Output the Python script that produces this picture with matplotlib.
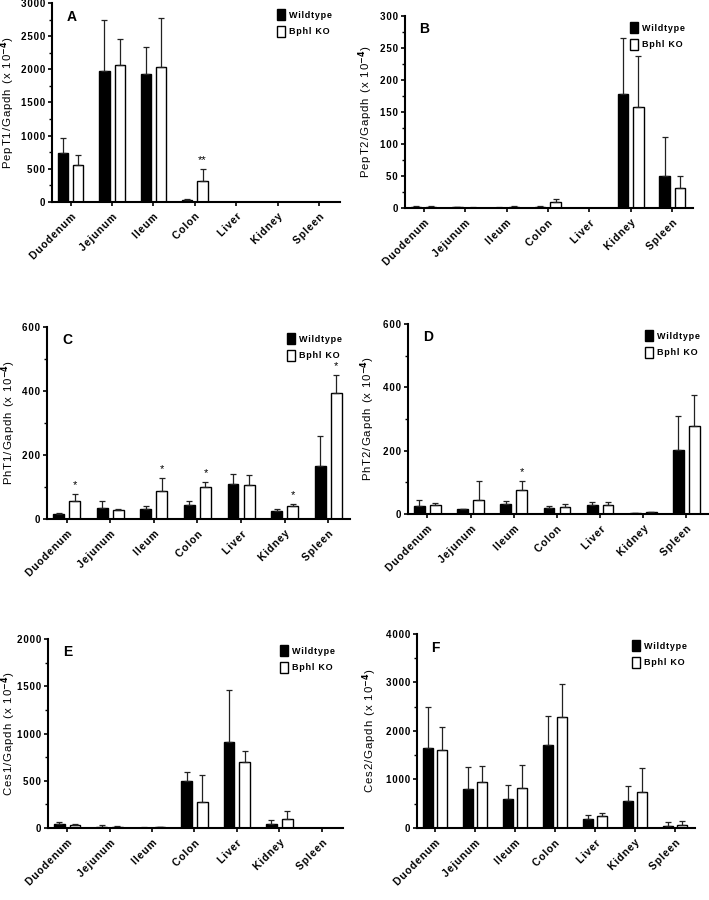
"""
Transporter / esterase mRNA levels, wildtype vs Bphl KO, six panels.
"""
import numpy as np
from matplotlib import pyplot as plt
from matplotlib.patches import Patch
from matplotlib.ticker import AutoMinorLocator, MultipleLocator, FuncFormatter

plt.rcParams['font.family'] = ['Liberation Sans', 'DejaVu Sans']
plt.rcParams['font.weight'] = 'bold'
plt.rcParams['mathtext.default'] = 'bf'

tissues = ['Duodenum', 'Jejunum', 'Ileum', 'Colon', 'Liver', 'Kidney', 'Spleen']

# panel A - PepT1
pept1_wt = [733, 1972, 1922, 30, 0, 0, 0]
pept1_wt_top = [958, 2740, 2338, 40, 0, 0, 0]
pept1_ko = [557, 2072, 2037, 321, 0, 0, 0]
pept1_ko_top = [707, 2464, 2780, 492, 0, 0, 0]
pept1_sig = ['', '', '', '**', '', '', '']

# panel B - PepT2
pept2_wt = [2, 1, 0.5, 2, 0, 178, 49.5]
pept2_wt_top = [3, 1.5, 1, 3, 0, 266, 111]
pept2_ko = [2, 0.5, 2, 10, 0, 158, 32]
pept2_ko_top = [3, 1, 3, 14.6, 0, 237, 50]
pept2_sig = ['', '', '', '', '', '', '']

# panel C - PhT1
pht1_wt = [14.6, 34, 32, 44, 110, 25, 165]
pht1_wt_top = [18, 56, 41, 55, 142, 32, 260]
pht1_ko = [55, 29, 87.5, 101, 107, 40, 394]
pht1_ko_top = [79, 31, 129, 117, 137, 48, 451]
pht1_sig = ['*', '', '*', '*', '', '*', '*']

# panel D - PhT2
pht2_wt = [25, 15, 31, 18, 28.5, 3, 202]
pht2_wt_top = [44, 17, 42, 25, 39, 4, 308]
pht2_ko = [28.5, 44, 76, 23, 28.5, 6, 278]
pht2_ko_top = [36, 105, 105, 31, 37, 7, 377]
pht2_sig = ['', '', '*', '', '', '', '']

# panel E - Ces1
ces1_wt = [42, 15, 5, 499, 906, 46, 0]
ces1_wt_top = [64, 35, 6, 595, 1462, 85, 0]
ces1_ko = [28, 12, 8, 276, 694, 99, 0]
ces1_ko_top = [42, 18, 10, 566, 814, 180, 0]
ces1_sig = ['', '', '', '', '', '', '']

# panel F - Ces2
ces2_wt = [1655, 800, 607, 1717, 193, 559, 48]
ces2_wt_top = [2503, 1255, 883, 2310, 276, 869, 124]
ces2_ko = [1614, 952, 821, 2297, 255, 738, 69]
ces2_ko_top = [2076, 1276, 1303, 2959, 310, 1241, 145]
ces2_sig = ['', '', '', '', '', '', '']


def spaced(s):
    return '\u200a'.join(s)


fig = plt.figure(figsize=(7.09, 9.0), dpi=100)

# letter, gene, data..., ymax, tick step, axes rect, ylabel right edge (px)
panels = [
    ('A', 'PepT1', pept1_wt, pept1_wt_top, pept1_ko, pept1_ko_top, pept1_sig, 3000, 500,
     [0.0733, 0.7756, 0.4062, 0.2211], 17.5),
    ('B', 'PepT2', pept2_wt, pept2_wt_top, pept2_ko, pept2_ko_top, pept2_sig, 300, 50,
     [0.5712, 0.7689, 0.4062, 0.2133], 375),
    ('C', 'PhT1', pht1_wt, pht1_wt_top, pht1_ko, pht1_ko_top, pht1_sig, 600, 200,
     [0.0663, 0.4233, 0.4274, 0.2134], 18),
    ('D', 'PhT2', pht2_wt, pht2_wt_top, pht2_ko, pht2_ko_top, pht2_sig, 600, 200,
     [0.5755, 0.4289, 0.4231, 0.2111], 377),
    ('E', 'Ces1', ces1_wt, ces1_wt_top, ces1_ko, ces1_ko_top, ces1_sig, 2000, 500,
     [0.0677, 0.0800, 0.4161, 0.2100], 18),
    ('F', 'Ces2', ces2_wt, ces2_wt_top, ces2_ko, ces2_ko_top, ces2_sig, 4000, 1000,
     [0.5881, 0.0800, 0.3922, 0.2156], 379),
]

x = np.arange(len(tissues))
w = 0.25
off = 0.185

for letter, gene, wt, wt_top, ko, ko_top, sig, ymax, step, pos, lab_px in panels:
    ax = fig.add_axes(pos)
    wt = np.array(wt, dtype=float)
    ko = np.array(ko, dtype=float)
    wt_err = np.array(wt_top) - wt
    ko_err = np.array(ko_top) - ko
    ax.bar(x - off, wt, w, color='black', edgecolor='black', linewidth=1)
    ax.bar(x + off, ko, w, color='white', edgecolor='black', linewidth=1)
    ax.errorbar(x - off, wt, yerr=[np.zeros_like(wt), wt_err], fmt='none',
                ecolor='#222222', elinewidth=0.9, capsize=2.5, capthick=0.9)
    ax.errorbar(x + off, ko, yerr=[np.zeros_like(ko), ko_err], fmt='none',
                ecolor='#222222', elinewidth=0.9, capsize=2.5, capthick=0.9)
    for i, s in enumerate(sig):
        if s:
            ax.text(x[i] + off, ko_top[i] + ymax * 0.02, s, ha='center', va='bottom',
                    fontsize=8, fontweight='normal')

    ax.set_xlim(-0.45, 6.5)
    ax.set_ylim(0, ymax)
    ax.yaxis.set_major_locator(MultipleLocator(step))
    ax.yaxis.set_minor_locator(AutoMinorLocator(2))
    ax.yaxis.set_major_formatter(FuncFormatter(lambda v, p: spaced('%d' % v)))
    ax.set_xticks(x)
    ax.set_xticklabels([spaced(t) for t in tissues], rotation=45, ha='right',
                       rotation_mode='anchor', fontsize=7.5)
    ax.tick_params(axis='y', labelsize=7, width=1.2, length=3, pad=2)
    ax.tick_params(axis='y', which='minor', width=1.0, length=2)
    ax.tick_params(axis='x', width=1.2, length=3, pad=4)
    for sp in ['top', 'right']:
        ax.spines[sp].set_visible(False)
    for sp in ['left', 'bottom']:
        ax.spines[sp].set_linewidth(1.5)
    ax.set_ylabel(spaced(gene + '/Gapdh (x 10') + '$^{-4}$)', fontsize=8.2)
    ax_left = pos[0] * 709
    ax_w = pos[2] * 709
    ax.yaxis.set_label_coords((lab_px - ax_left) / ax_w, 0.5)
    ax.text(0.05, 0.93, letter, transform=ax.transAxes, fontsize=10,
            fontweight='bold', va='center')
    handles = [Patch(facecolor='black', edgecolor='black'),
               Patch(facecolor='white', edgecolor='black')]
    ax.legend(handles, [spaced('Wildtype'), spaced('Bphl KO')], loc='upper right',
              bbox_to_anchor=(1.0, 1.01), frameon=False, fontsize=6.5,
              handlelength=0.9, handleheight=1.5, handletextpad=0.4, labelspacing=0.6)

plt.savefig('out.png', dpi=100)
